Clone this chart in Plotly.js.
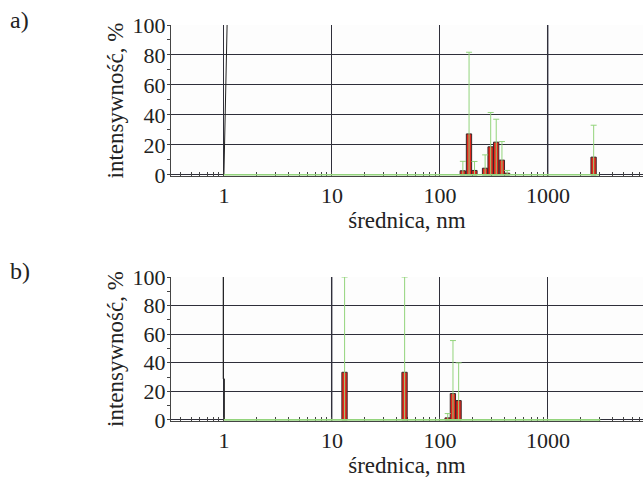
<!DOCTYPE html>
<html>
<head>
<meta charset="utf-8">
<script src="https://cdn.plot.ly/plotly-3.0.1.min.js"></script>
<style>html,body{margin:0;padding:0;background:#fff}#chart{width:643px;height:480px}</style>
</head>
<body>
<div id="chart"></div>
<script>
// ---- data: panel a) ----
const diamA = [163, 186, 209, 262, 295, 332, 375, 419, 2650];
const intA  = [2.7, 27.3, 2.9, 4.4, 18.7, 21.8, 9.8, 1.1, 11.8];
const errTopA = [9, 81.8, 8.9, 13.3, 41.6, 37.1, 22.2, 2.9, 33.1];
const edgeLineAx = [1, 1.07];
const edgeLineAy = [0, 100];
const baseAx = [1, 2960];
const baseAy = [0, 0];

// ---- data: panel b) ----
const diamB = [13.1, 47.1, 118, 132, 149];
const intB  = [33.3, 33.3, 1.4, 18.4, 13.5];
const errTopB = [100, 100, 4.4, 55.5, 39.9];
const edgeLineBx = [1.01, 1.01, 0.985, 0.985];
const edgeLineBy = [0, 28.7, 28.7, 100];
const baseBx = [1, 3050];
const baseBy = [0, 0];

// ---- ticks ----
const xTickVals = [1, 10, 100, 1000];
const xTickText = ['1', '10', '100', '1000'];
const yTickVals = [0, 20, 40, 60, 80, 100];
const yTickText = ['0', '20', '40', '60', '80', '100'];
const greyGridA = [1000];
const greyGridB = [10];
const xTitle = 'średnica, nm';
const yTitle = 'intensywność, %';
const panelLabels = ['a)', 'b)'];

const FONT = 'Liberation Serif';
const RED = '#e3261c';
const GREEN = '#93d47c';
const DARK = '#2f2f3a';
const halfLog = 0.0245;
const widthFactor = Math.pow(10, halfLog) - Math.pow(10, -halfLog);

function barTrace(x, y, top, xa, ya) {
  return {
    type: 'bar', x: x, y: y, xaxis: xa, yaxis: ya,
    width: x.map(v => v * widthFactor),
    marker: {color: RED, line: {color: '#3a2a2a', width: 1}},
    error_y: {type: 'data', symmetric: false,
      array: top.map((t, i) => t - y[i]), arrayminus: y.slice(),
      color: GREEN, thickness: 1, width: 3},
    hoverinfo: 'skip', showlegend: false
  };
}
function lineTrace(x, y, xa, ya, color, w) {
  return {type: 'scatter', mode: 'lines', x: x, y: y, xaxis: xa, yaxis: ya,
    line: {color: color, width: w}, hoverinfo: 'skip', showlegend: false, cliponaxis: false};
}

const data = [
  lineTrace(edgeLineAx, edgeLineAy, 'x', 'y', '#222', 1),
  lineTrace(baseAx, baseAy, 'x', 'y', GREEN, 1.6),
  barTrace(diamA, intA, errTopA, 'x', 'y'),
  lineTrace(edgeLineBx, edgeLineBy, 'x2', 'y2', '#222', 1),
  lineTrace(baseBx, baseBy, 'x2', 'y2', GREEN, 1.6),
  barTrace(diamB, intB, errTopB, 'x2', 'y2')
];

function xAxis(anchor) {
  return {
    type: 'log', range: [-0.49, 3.88], domain: [171/643, 1], anchor: anchor,
    tickmode: 'array', tickvals: xTickVals, ticktext: xTickText,
    ticks: '', showgrid: true, gridcolor: DARK, gridwidth: 1,
    showline: true, linecolor: '#444', linewidth: 1, zeroline: false,
    layer: 'below traces',
    tickfont: {family: FONT, size: 22, color: '#222'},
    minor: {dtick: 'D1', ticks: 'inside', ticklen: 4, tickcolor: '#444', showgrid: false},
    title: {text: xTitle, font: {family: FONT, size: 23, color: '#222'}, standoff: 4},
    fixedrange: true
  };
}
function yAxis(anchor, dom) {
  return {
    range: [-0.8, 100], domain: dom, anchor: anchor,
    tickmode: 'array', tickvals: yTickVals, ticktext: yTickText,
    ticks: '', showgrid: true, gridcolor: DARK, gridwidth: 1,
    showline: true, linecolor: '#444', linewidth: 1, zeroline: false,
    layer: 'below traces',
    tickfont: {family: FONT, size: 22, color: '#222'},
    minor: {dtick: 10, tick0: 0, ticks: 'outside', ticklen: 3, tickcolor: '#444', showgrid: false},
    title: {text: yTitle, font: {family: FONT, size: 23, color: '#222'}, standoff: 2},
    fixedrange: true
  };
}
function greyGrid(vals, xr, yr) {
  return vals.map(v => ({type: 'line', layer: 'below', xref: xr, yref: 'paper',
    x0: v, x1: v, y0: yr[0], y1: yr[1], line: {color: '#a4a4ac', width: 2}}));
}
const domA = [(480-176)/480, (480-25)/480];
const domB = [(480-421)/480, (480-277)/480];

const layout = {
  width: 643, height: 480,
  margin: {l: 0, r: 0, t: 0, b: 0},
  font: {family: FONT, size: 22, color: '#222'},
  paper_bgcolor: '#ffffff', plot_bgcolor: '#fdfdfd',
  barmode: 'overlay', bargap: 0,
  xaxis: xAxis('y'),
  yaxis: yAxis('x', domA),
  xaxis2: xAxis('y2'),
  yaxis2: yAxis('x2', domB),
  shapes: greyGrid(greyGridA, 'x', domA).concat(greyGrid(greyGridB, 'x2', domB)),
  annotations: [
    {text: panelLabels[0], xref: 'paper', yref: 'paper', x: 8/643, y: (480-20)/480,
     xanchor: 'left', yanchor: 'middle', showarrow: false, font: {family: FONT, size: 24, color: '#222'}},
    {text: panelLabels[1], xref: 'paper', yref: 'paper', x: 8/643, y: (480-271)/480,
     xanchor: 'left', yanchor: 'middle', showarrow: false, font: {family: FONT, size: 24, color: '#222'}}
  ]
};

Plotly.newPlot('chart', data, layout, {staticPlot: true, displayModeBar: false});
</script>
</body>
</html>
